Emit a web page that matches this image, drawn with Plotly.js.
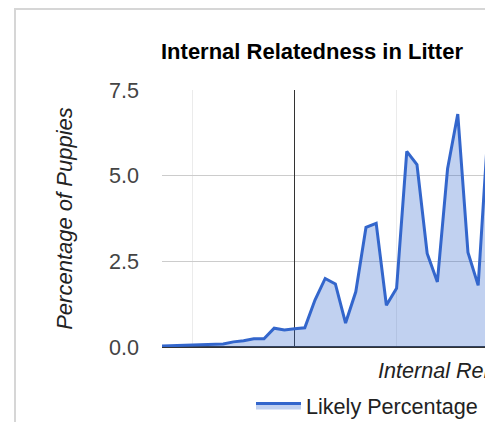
<!DOCTYPE html>
<html>
<head>
<meta charset="utf-8">
<script src="https://cdn.plot.ly/plotly-3.0.1.min.js"></script>
<style>
  html, body { margin: 0; padding: 0; background: #ffffff; overflow: hidden; }
  #chart { position: absolute; left: 0; top: 0; width: 485px; height: 422px; }
  #frame { position: absolute; left: 14px; top: 8px; width: 600px; height: 500px;
           border-left: 2px solid #d6d6d6; border-top: 2px solid #d6d6d6;
           pointer-events: none; box-sizing: border-box; }
</style>
</head>
<body>
<div id="chart"></div>
<div id="frame"></div>
<script>
// Internal relatedness values (x) and likely percentage of puppies (y)
const irValues = [-0.13, -0.12, -0.11, -0.10, -0.09, -0.08, -0.07, -0.06, -0.05, -0.04, -0.03,
                  -0.02, -0.01, 0.00, 0.01, 0.02, 0.03, 0.04, 0.05, 0.06, 0.07, 0.08,
                  0.09, 0.10, 0.11, 0.12, 0.13, 0.14, 0.15, 0.16, 0.17, 0.18, 0.19];
const likelyPct = [0.03, 0.04, 0.05, 0.06, 0.07, 0.08, 0.09, 0.15, 0.18, 0.24, 0.24,
                   0.55, 0.50, 0.53, 0.56, 1.37, 2.00, 1.84, 0.70, 1.61, 3.49, 3.61,
                   1.22, 1.71, 5.71, 5.32, 2.73, 1.90, 5.20, 6.80, 2.76, 1.80, 6.5];
const yTickVals = [0, 2.5, 5.0, 7.5];
const yTickText = ["0.0", "2.5", "5.0", "7.5"];
const xGridVals = [-0.1, 0.0, 0.1, 0.2];
const seriesName = "Likely Percentage";
const chartTitle = "Internal Relatedness in Litter";
const xTitle = "Internal Relatedness";
const yTitle = "Percentage of Puppies";

const FONT = "Arial, 'Liberation Sans', sans-serif";

const trace = {
  type: "scatter",
  mode: "lines",
  x: irValues,
  y: likelyPct,
  name: seriesName,
  fill: "tozeroy",
  fillcolor: "rgba(51,102,204,0.3)",
  line: { color: "#3366cc", width: 3 },
  showlegend: true,
  hoverinfo: "x+y"
};

const layout = {
  width: 485,
  height: 422,
  margin: { l: 162, r: 0, t: 90, b: 75, pad: 0, autoexpand: false },
  paper_bgcolor: "rgba(0,0,0,0)",
  plot_bgcolor: "rgba(0,0,0,0)",
  font: { family: FONT, size: 21.6, color: "#222222" },
  title: {
    text: "<b>" + chartTitle + "</b>",
    font: { family: FONT, size: 22, color: "#000000" },
    xref: "container", x: 161 / 485, xanchor: "left",
    yref: "container", y: 1 - 51 / 422, yanchor: "middle"
  },
  xaxis: {
    range: [-0.13, 0.1867],
    tickvals: xGridVals,
    showticklabels: false,
    ticks: "",
    showgrid: true,
    gridcolor: "#ebebeb",
    gridwidth: 1,
    zeroline: true,
    zerolinecolor: "#333333",
    zerolinewidth: 1.5,
    showline: false,
    fixedrange: true
  },
  yaxis: {
    range: [0, 7.5],
    tickvals: yTickVals,
    ticktext: yTickText,
    ticks: "",
    ticklabelstandoff: 22,
    tickfont: { family: FONT, size: 21.6, color: "#444444" },
    showgrid: true,
    gridcolor: "#cccccc",
    gridwidth: 1,
    zeroline: true,
    zerolinecolor: "#333333",
    zerolinewidth: 1.5,
    showline: false,
    fixedrange: true,
    automargin: false,
    title: {
      text: "<i>" + yTitle + "</i>",
      font: { family: FONT, size: 22, color: "#222222" },
      standoff: 30
    }
  },
  showlegend: true,
  legend: {
    orientation: "h",
    x: (251 - 162) / 323, xanchor: "left",
    y: (347 - 406) / 257, yanchor: "middle",
    font: { family: FONT, size: 21.6, color: "#222222" },
    itemwidth: 45,
    bgcolor: "rgba(0,0,0,0)",
    borderwidth: 0
  },
  annotations: [{
    text: "<i>" + xTitle + "</i>",
    xref: "paper", yref: "paper",
    x: (376 - 162) / 323, xanchor: "left",
    y: (347 - 370) / 257, yanchor: "middle",
    showarrow: false,
    font: { family: FONT, size: 21.6, color: "#222222" }
  }]
};

Plotly.newPlot("chart", [trace], layout, { displayModeBar: false, staticPlot: true });
</script>
</body>
</html>
